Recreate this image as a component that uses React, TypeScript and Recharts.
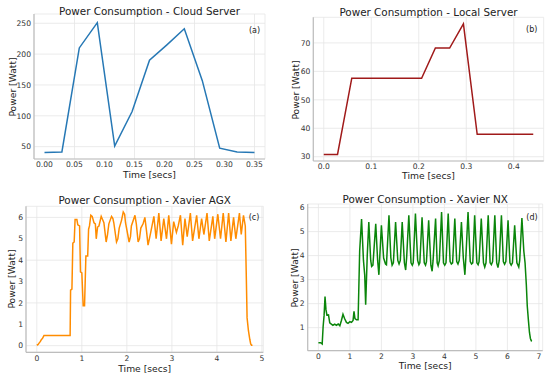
import React from 'react';
import { LineChart, Line, XAxis, YAxis, CartesianGrid } from 'recharts';

// ---- Data ----
const cloudTime = [0, 0.029, 0.058, 0.088, 0.117, 0.146, 0.175, 0.204, 0.233, 0.263, 0.292, 0.321, 0.35];
const cloudPower = [40.5, 41.5, 210, 251, 51, 107, 190, 215, 241, 157, 47.5, 41.5, 40.5];

const localTime = [0, 0.029, 0.059, 0.088, 0.118, 0.147, 0.176, 0.206, 0.235, 0.265, 0.294, 0.323, 0.353, 0.382, 0.412, 0.441];
const localPower = [30.8, 30.8, 57.6, 57.6, 57.6, 57.6, 57.6, 57.6, 68.2, 68.2, 76.7, 37.9, 37.9, 37.9, 37.9, 37.9];

const agxTime = [
  0.0, 0.03, 0.05, 0.08, 0.1, 0.13, 0.16, 0.3, 0.45, 0.6, 0.74, 0.75, 0.78, 0.8, 0.83, 0.85, 0.89, 0.91, 0.95, 0.97,
  1.0, 1.03, 1.06, 1.09, 1.13, 1.15, 1.17, 1.2, 1.23, 1.27, 1.3, 1.32, 1.35, 1.38, 1.43, 1.46, 1.49, 1.54, 1.57, 1.6,
  1.66, 1.69, 1.71, 1.77, 1.8, 1.83, 1.88, 1.92, 1.95, 1.97, 2.05, 2.08, 2.1, 2.18, 2.21, 2.25, 2.28, 2.31, 2.36, 2.4,
  2.44, 2.47, 2.5, 2.53, 2.6, 2.65, 2.71, 2.76, 2.82, 2.88, 2.93, 2.99, 3.04, 3.1, 3.14, 3.19, 3.24, 3.29, 3.34, 3.41,
  3.46, 3.55, 3.6, 3.66, 3.71, 3.78, 3.83, 3.91, 3.95, 4.02, 4.08, 4.14, 4.2, 4.26, 4.31, 4.37, 4.42, 4.5, 4.54, 4.59,
  4.63, 4.65, 4.67, 4.7, 4.73, 4.75, 4.77, 4.79,
];
const agxPower = [
  0.02, 0.06, 0.12, 0.2, 0.28, 0.35, 0.48, 0.48, 0.48, 0.48, 0.48, 2.6, 2.65, 4.8, 4.85, 5.9, 5.9, 5.65, 5.6, 3.45,
  3.4, 1.87, 1.87, 4.2, 4.2, 5.45, 5.6, 6.1, 6.05, 5.75, 5.7, 5.0, 5.55, 5.6, 6.05, 5.9, 5.75, 4.85, 5.2, 5.7,
  6.05, 5.95, 5.75, 4.85, 5.0, 5.5, 5.85, 6.25, 6.15, 5.75, 4.85, 5.1, 5.6, 6.1, 5.7, 4.85, 5.0, 5.5, 5.7, 6.0,
  5.3, 4.7, 5.0, 5.3, 6.05, 5.0, 6.2, 4.9, 5.95, 5.0, 6.1, 4.75, 5.8, 5.3, 5.6, 6.1, 4.7, 5.95, 5.1, 6.2,
  4.9, 6.1, 5.0, 5.95, 5.2, 6.2, 4.9, 6.05, 5.0, 6.15, 5.0, 6.2, 4.85, 6.2, 4.9, 6.0, 5.0, 6.2, 5.2, 6.1,
  5.6, 3.5, 1.3, 0.7, 0.3, 0.08, 0.02, 0.02,
];

const nxTime = [
  0.0, 0.07, 0.12, 0.15, 0.18, 0.21, 0.24, 0.27, 0.32, 0.36, 0.41, 0.46, 0.52, 0.57, 0.63, 0.68, 0.73, 0.78, 0.83, 0.89,
  0.94, 1.0, 1.05, 1.1, 1.13, 1.16, 1.21, 1.26, 1.31, 1.37, 1.43, 1.47, 1.5, 1.55, 1.6, 1.66, 1.69, 1.73, 1.82, 1.88,
  1.92, 1.95, 2.0, 2.07, 2.13, 2.16, 2.24, 2.3, 2.34, 2.38, 2.45, 2.52, 2.56, 2.6, 2.66, 2.73, 2.77, 2.8, 2.87, 2.94,
  2.98, 3.01, 3.08, 3.15, 3.19, 3.22, 3.29, 3.36, 3.4, 3.43, 3.5, 3.57, 3.61, 3.64, 3.72, 3.77, 3.8, 3.84, 3.91, 3.97,
  4.01, 4.05, 4.12, 4.18, 4.22, 4.26, 4.33, 4.39, 4.43, 4.47, 4.54, 4.6, 4.65, 4.68, 4.75, 4.82, 4.86, 4.9, 4.96, 5.03,
  5.07, 5.1, 5.17, 5.24, 5.28, 5.32, 5.39, 5.45, 5.49, 5.53, 5.6, 5.66, 5.7, 5.74, 5.81, 5.87, 5.91, 5.95, 6.02, 6.08,
  6.12, 6.16, 6.23, 6.3, 6.36, 6.39, 6.46, 6.52, 6.56, 6.6, 6.63, 6.67, 6.7, 6.73, 6.76, 6.78,
];
const nxPower = [
  0.37, 0.37, 0.32, 1.05, 1.5, 2.3, 1.75, 1.52, 1.53, 1.2, 1.15, 1.1, 1.15, 1.1, 1.15, 1.08, 1.3, 1.56, 1.38, 1.22,
  1.18, 1.25, 1.22, 1.3, 1.68, 1.38, 1.33, 1.33, 4.2, 5.52, 3.8, 3.2, 1.95, 4.0, 5.4, 3.8, 3.55, 3.6, 5.33, 3.8,
  3.2, 4.0, 5.26, 3.9, 3.65, 3.62, 5.68, 3.9, 3.6, 3.7, 5.4, 3.8, 3.65, 3.8, 5.4, 3.7, 3.4, 3.9, 5.68, 3.7,
  3.6, 3.7, 5.75, 3.8, 3.62, 3.7, 5.6, 3.7, 3.6, 3.75, 5.47, 3.6, 3.35, 3.8, 5.54, 3.7, 3.58, 3.8, 5.82, 3.7,
  3.6, 3.7, 5.75, 3.75, 3.65, 3.7, 5.54, 3.75, 3.65, 3.8, 5.4, 3.9, 3.2, 3.9, 5.82, 3.75, 3.65, 3.7, 5.68, 3.7,
  3.62, 3.75, 5.54, 3.7, 3.52, 3.7, 5.68, 3.7, 3.62, 3.75, 5.68, 3.7, 3.5, 3.8, 5.68, 3.75, 3.64, 3.75, 5.47, 3.7,
  3.6, 3.7, 5.26, 3.7, 3.52, 3.8, 5.57, 4.2, 3.7, 2.8, 1.9, 1.25, 0.8, 0.55, 0.45, 0.44,
];

const cloudXTicks = [0, 0.05, 0.1, 0.15, 0.2, 0.25, 0.3, 0.35];
const cloudYTicks = [50, 100, 150, 200, 250];
const localXTicks = [0, 0.1, 0.2, 0.3, 0.4];
const localYTicks = [30, 40, 50, 60, 70];
const agxXTicks = [0, 1, 2, 3, 4, 5];
const agxYTicks = [0, 1, 2, 3, 4, 5, 6];
const nxXTicks = [0, 1, 2, 3, 4, 5, 6, 7];
const nxYTicks = [1, 2, 3, 4, 5, 6];

const zip = (ts: number[], ps: number[]) => ts.map((t, i) => ({ t, p: ps[i] }));

const SPINE = '#bdbdbd';
const GRID = '#e6e6e6';
const TICK = { fontSize: 7.6, fill: '#333' };

type PanelProps = {
  left: number; top: number; width: number; height: number;
  plotLeft: number; plotRight: number; plotTop: number; plotBottom: number;
  data: { t: number; p: number }[];
  color: string;
  xDomain: [number, number]; yDomain: [number, number];
  xTicks: number[]; yTicks: number[];
  xFmt: (v: number) => string;
};

function Panel(props: PanelProps) {
  const { left, top, width, height, plotLeft, plotRight, plotTop, plotBottom, data, color, xDomain, yDomain, xTicks, yTicks, xFmt } = props;
  return (
    <div style={{ position: 'absolute', left, top, width, height }}>
      <LineChart width={width} height={height} data={data}
        margin={{ top: plotTop, right: width - plotRight, bottom: 0, left: 0 }}>
        <CartesianGrid stroke={GRID} strokeWidth={0.8} />
        <XAxis dataKey="t" type="number" domain={xDomain} allowDataOverflow ticks={xTicks}
          tickFormatter={xFmt} tick={TICK} tickLine={false} tickSize={0} tickMargin={3}
          axisLine={{ stroke: SPINE, strokeWidth: 1.2 }} height={height - plotBottom} />
        <XAxis xAxisId="top" orientation="top" type="number" domain={xDomain} allowDataOverflow
          tick={false} tickLine={false} height={0} axisLine={{ stroke: SPINE, strokeWidth: 1.2 }} />
        <YAxis type="number" domain={yDomain} allowDataOverflow ticks={yTicks} tick={TICK}
          tickLine={false} tickSize={0} tickMargin={3} width={plotLeft}
          axisLine={{ stroke: SPINE, strokeWidth: 1.2 }} />
        <YAxis yAxisId="right" orientation="right" type="number" domain={yDomain} allowDataOverflow
          tick={false} tickLine={false} width={0} axisLine={{ stroke: SPINE, strokeWidth: 1.2 }} />
        <Line type="linear" dataKey="p" stroke={color} strokeWidth={1.5} dot={false} isAnimationActive={false} />
      </LineChart>
    </div>
  );
}

const titles = [
  { text: 'Power Consumption - Cloud Server', x: 149.5, y: 14.5 },
  { text: 'Power Consumption - Local Server', x: 428.5, y: 16 },
  { text: 'Power Consumption - Xavier AGX', x: 144.7, y: 203.5 },
  { text: 'Power Consumption - Xavier NX', x: 425.2, y: 203.3 },
];
const xLabels = [
  { x: 149.5, y: 178 },
  { x: 428.5, y: 179.3 },
  { x: 144.7, y: 372 },
  { x: 425.2, y: 369.3 },
];
const yLabels = [
  { x: 12.3, y: 87 },
  { x: 295, y: 90 },
  { x: 11.3, y: 279 },
  { x: 294.5, y: 278 },
];
const tags = [
  { text: '(a)', x: 254.5, y: 30 },
  { text: '(b)', x: 531.7, y: 29.7 },
  { text: '(c)', x: 254, y: 217.8 },
  { text: '(d)', x: 532, y: 217.7 },
];

export default function App() {
  return (
    <div style={{ position: 'absolute', left: 0, top: 0, width: 550, height: 378, background: '#fff', fontFamily: '"DejaVu Sans", sans-serif', overflow: 'hidden' }}>
      <Panel left={0} top={0} width={275} height={189} plotLeft={34} plotRight={265} plotTop={14} plotBottom={159}
        data={zip(cloudTime, cloudPower)} color="#2678b5" xDomain={[-0.0175, 0.3675]} yDomain={[30, 265]}
        xTicks={cloudXTicks} yTicks={cloudYTicks} xFmt={(v) => v.toFixed(2)} />
      <Panel left={275} top={0} width={275} height={189} plotLeft={38.3} plotRight={268.7} plotTop={17.3} plotBottom={161}
        data={zip(localTime, localPower)} color="#a01a1a" xDomain={[-0.022, 0.463]} yDomain={[28.5, 79.0]}
        xTicks={localXTicks} yTicks={localYTicks} xFmt={(v) => v.toFixed(1)} />
      <Panel left={0} top={189} width={275} height={189} plotLeft={26} plotRight={263.3} plotTop={17.3} plotBottom={163.3}
        data={zip(agxTime, agxPower)} color="#ff8c00" xDomain={[-0.24, 5.03]} yDomain={[-0.31, 6.52]}
        xTicks={agxXTicks} yTicks={agxYTicks} xFmt={(v) => String(v)} />
      <Panel left={275} top={189} width={275} height={189} plotLeft={32.7} plotRight={267.7} plotTop={15} plotBottom={161.7}
        data={zip(nxTime, nxPower)} color="#0a850a" xDomain={[-0.34, 7.12]} yDomain={[0.04, 6.15]}
        xTicks={nxXTicks} yTicks={nxYTicks} xFmt={(v) => String(v)} />
      <svg width={550} height={378} style={{ position: 'absolute', left: 0, top: 0, pointerEvents: 'none' }}>
        {titles.map((t) => (
          <text key={t.text} x={t.x} y={t.y} textAnchor="middle" fontSize={10.4} fill="#222">{t.text}</text>
        ))}
        {xLabels.map((l, i) => (
          <text key={'x' + i} x={l.x} y={l.y} textAnchor="middle" fontSize={9.2} fill="#222">Time [secs]</text>
        ))}
        {yLabels.map((l, i) => (
          <text key={'y' + i} x={l.x} y={l.y} textAnchor="middle" dominantBaseline="central" fontSize={9.2} fill="#222"
            transform={`rotate(-90, ${l.x}, ${l.y})`}>Power [Watt]</text>
        ))}
        {tags.map((t) => (
          <text key={t.text} x={t.x} y={t.y} textAnchor="middle" dominantBaseline="central" fontSize={8} fill="#222">{t.text}</text>
        ))}
      </svg>
    </div>
  );
}
